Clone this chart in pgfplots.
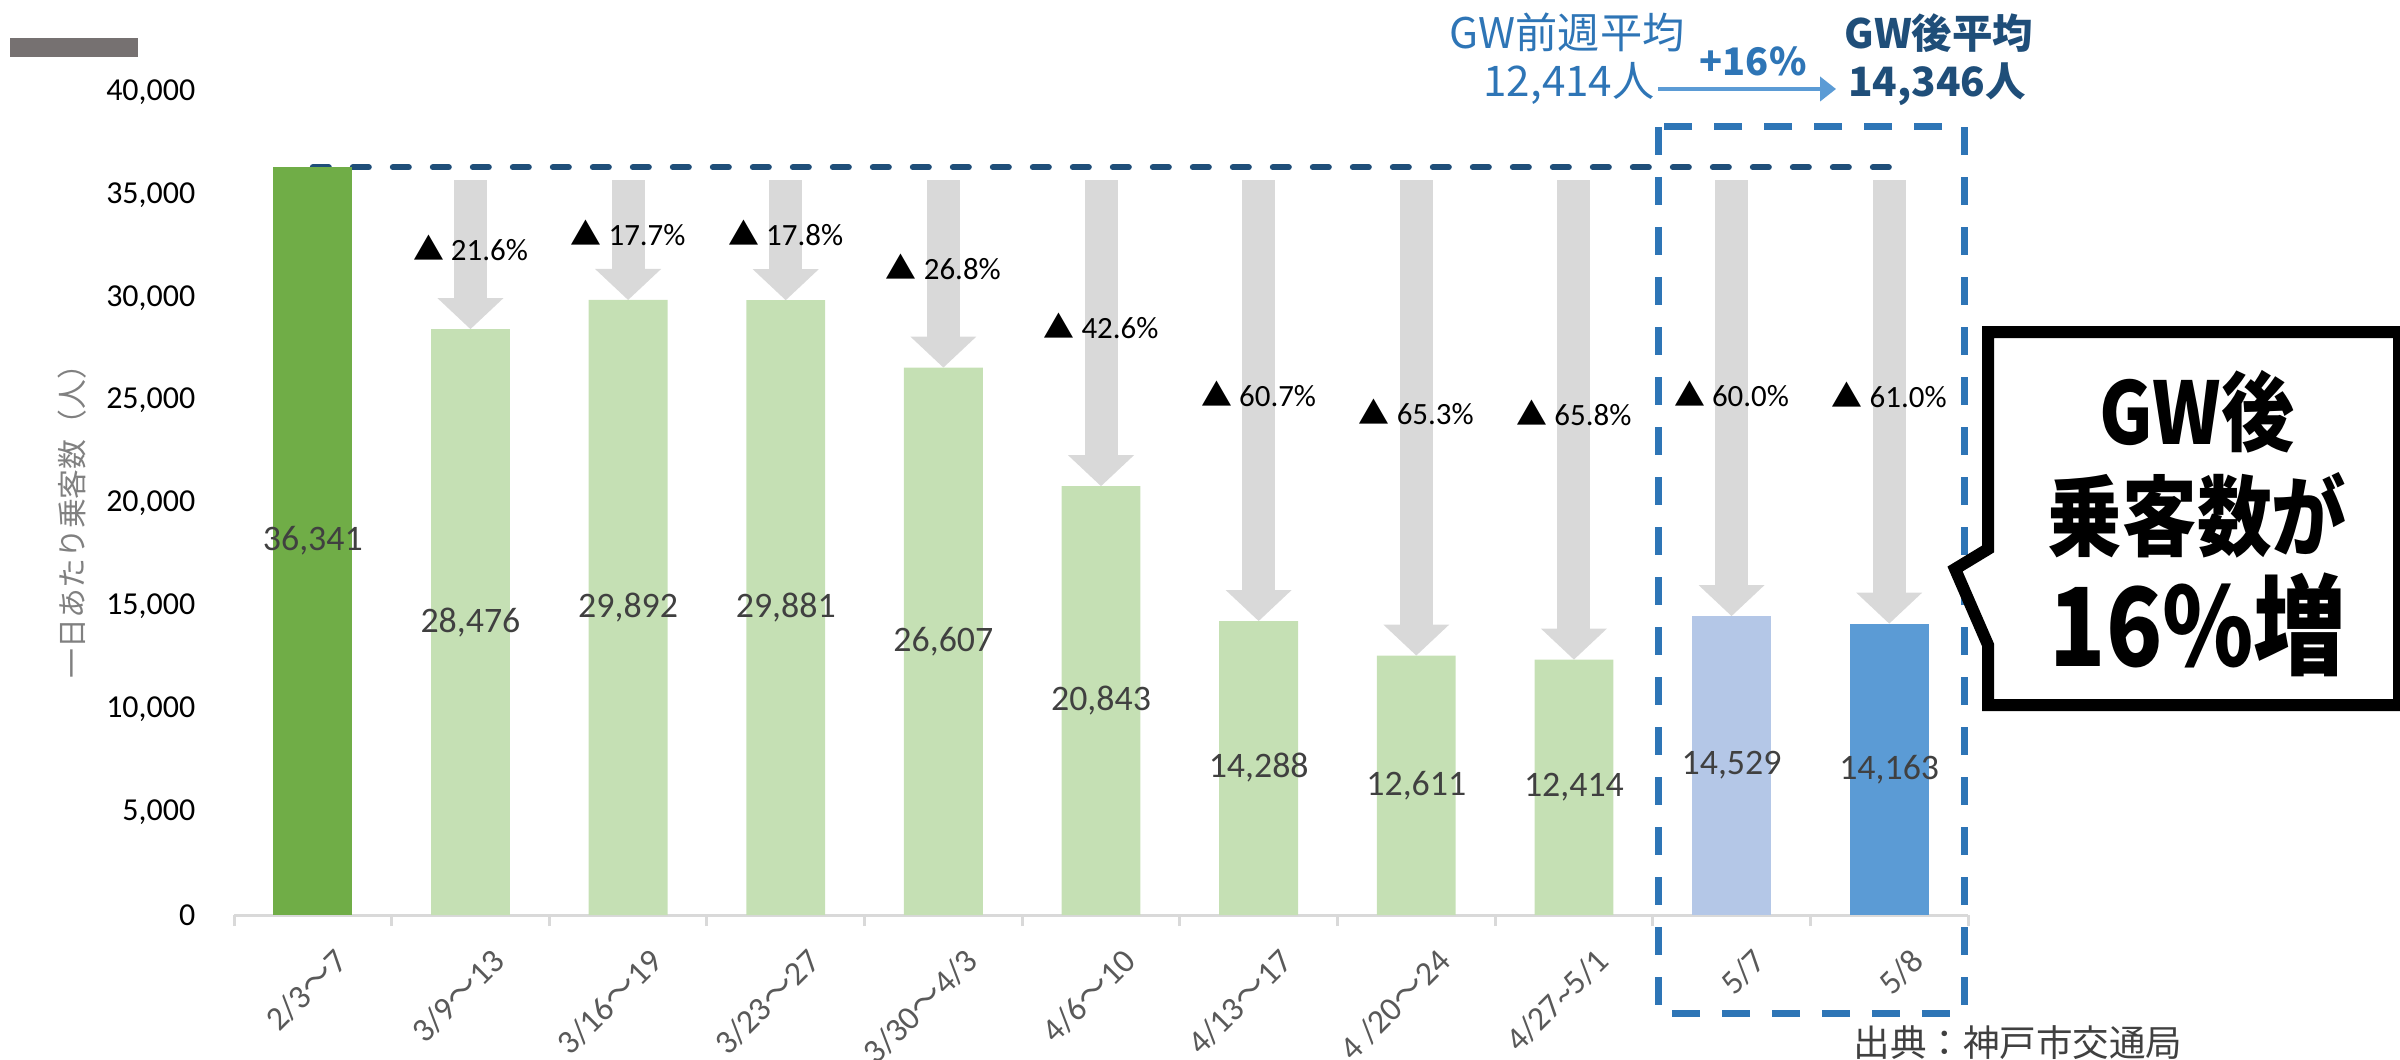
\documentclass[border=0pt]{standalone}
\usepackage{fontspec}
\setmainfont{Carlito}
\newfontfamily\cjk{Noto Sans CJK JP}
\newfontfamily\cjkn[FakeStretch=0.85]{Noto Sans CJK JP}
\usepackage{pgfplots}
\usepackage{pgfplotstable}
\pgfplotsset{compat=1.18}
\usetikzlibrary{arrows.meta}
\definecolor{gdark}{HTML}{70AD47}
\definecolor{glight}{HTML}{C5E0B4}
\definecolor{blight}{HTML}{B4C7E7}
\definecolor{bmid}{HTML}{5B9BD5}
\definecolor{arrgray}{HTML}{D9D9D9}
\definecolor{axgray}{HTML}{D9D9D9}
\definecolor{labgray}{HTML}{595959}
\definecolor{valgray}{HTML}{404040}
\definecolor{dkblue}{HTML}{1F4E79}
\definecolor{boxblue}{HTML}{2E75B6}
\definecolor{txtblue}{HTML}{2E75B6}
\definecolor{rectgray}{HTML}{767171}
\newcommand\wv{{\cjk 〜}}
\newcommand\tri{{\cjk ▲}}

\pgfplotstableread{
x val
0 36341
1 28476
2 29892
3 29881
4 26607
5 20843
6 14288
7 12611
8 12414
9 14529
10 14163
}\bars

\pgfplotstableread{
x top val
1 35700 28476
2 35700 29892
3 35700 29881
4 35700 26607
5 35700 20843
6 35700 14288
7 35700 12611
8 35700 12414
9 35700 14529
10 35700 14163
}\arrows

\pgfplotstableread{
x y pct
1 32416 21.6
2 33160 17.7
3 33160 17.8
4 31520 26.8
5 28625 42.6
6 25353 60.7
7 24460 65.3
8 24386 65.8
9 25353 60.0
10 25279 61.0
}\pcts

\begin{document}
\begin{tikzpicture}
\path[use as bounding box] (0,0) rectangle (240mm,-106mm);
\begin{axis}[
  at={(23.4mm,-91.5mm)}, anchor=south west,
  scale only axis, width=173.4mm, height=82.3mm,
  xmin=-0.5, xmax=10.5, ymin=0, ymax=40000,
  clip=false,
  axis x line*=bottom, axis y line*=left,
  x axis line style={draw=axgray, line width=0.3mm},
  y axis line style={draw=none},
  /pgf/number format/assume math mode=true,
  ytick={0,5000,...,40000},
  ytick style={draw=none},
  scaled y ticks=false,
  yticklabel style={/pgf/number format/1000 sep={,}, font=\fontsize{9.1}{10}\selectfont, inner sep=0pt, xshift=-3.8mm, text=black},
  xtick={0,...,10},
  xticklabels={2/3\wv 7, 3/9\wv 13, 3/16\wv 19, 3/23\wv 27, 3/30\wv 4/3, 4/6\wv 10, 4/13\wv 17, 4 /20\wv 24, 4/27\textasciitilde 5/1, 5/7, 5/8},
  major x tick style={draw=none},
  minor xtick={-0.5,0.5,...,10.5},
  minor x tick style={draw=axgray, line width=0.3mm},
  minor tick length=1.1mm,
  xtick align=outside,
  xticklabel style={rotate=45, anchor=north east, inner sep=0pt, font=\fontsize{9.6}{11}\selectfont, text=labgray, yshift=-2.5mm, xshift=0.3mm},
]
% gray arrows
\addplot[quiver={u=0, v=\thisrow{val}-\thisrow{top}}, draw=arrgray, line width=3.3mm,
  -{Triangle[length=3.1mm, width=6.6mm, line width=0pt]}] table[x=x, y=top] {\arrows};
% reference dashed line
\addplot[draw=dkblue, line width=0.6mm, line cap=round, dash pattern=on 1.6mm off 2.4mm] coordinates {(0,36341) (10,36341)};
% bars
\addplot[ybar, bar width=0.5, bar shift=0pt, fill=gdark, draw=none, restrict x to domain=-0.1:0.1] table[x=x, y=val] {\bars};
\addplot[ybar, bar width=0.5, bar shift=0pt, fill=glight, draw=none, restrict x to domain=0.9:8.1] table[x=x, y=val] {\bars};
\addplot[ybar, bar width=0.5, bar shift=0pt, fill=blight, draw=none, restrict x to domain=8.9:9.1] table[x=x, y=val] {\bars};
\addplot[ybar, bar width=0.5, bar shift=0pt, fill=bmid, draw=none, restrict x to domain=9.9:10.1] table[x=x, y=val] {\bars};
% value labels
\addplot[draw=none, mark=none, point meta=\thisrow{val},
  nodes near coords={\pgfmathprintnumber[fixed, precision=0, 1000 sep={,}]{\pgfplotspointmeta}},
  every node near coord/.append style={anchor=center, inner sep=0pt, text=valgray, font=\fontsize{10.2}{12}\selectfont}]
  table[x=x, y expr=\thisrow{val}/2] {\bars};
% percentage labels
\addplot[draw=none, mark=none, point meta=\thisrow{pct},
  nodes near coords={\tri\ \pgfmathprintnumber[fixed, fixed zerofill, precision=1]{\pgfplotspointmeta}\%},
  every node near coord/.append style={anchor=center, inner sep=0pt, text=black, font=\fontsize{8.8}{10}\selectfont}]
  table[x=x, y=y] {\pcts};
\end{axis}

\begin{scope}[x=0.1mm, y=-0.1mm]
\fill[rectgray] (10,38) rectangle (138,57);
\node[rotate=90, text=gray, font=\cjk\fontsize{8.5}{10}\selectfont] at (72,514) {一日あたり乗客数（人）};
\draw[boxblue, line width=0.7mm, dash pattern=on 2.8mm off 2.2mm] (1658,127) rectangle (1964,1013);
\node[text=txtblue, font=\cjk\fontsize{12}{14}\selectfont] at (1567,32) {GW前週平均};
\node[text=txtblue, font=\cjk\fontsize{12}{14}\selectfont] at (1569,83) {12,414人};
\node[text=txtblue, font=\cjk\bfseries\fontsize{10.8}{12}\selectfont] at (1753,61) {+16\%};
\draw[bmid, line width=0.4mm, -{Triangle[length=1.6mm, width=2.4mm]}] (1658,89) -- (1836,89);
\node[text=dkblue, font=\cjk\bfseries\fontsize{11.5}{14}\selectfont] at (1939,33) {GW後平均};
\node[text=dkblue, font=\cjk\bfseries\fontsize{11.5}{14}\selectfont] at (1937,84) {14,346人};
\filldraw[fill=white, draw=black, line width=1.2mm, line join=miter]
  (1988,332) -- (2399,332) -- (2399,705) -- (1988,705) -- (1988,645) -- (1955,569) -- (1988,549) -- cycle;
\node[font=\cjkn\bfseries\fontsize{24.5}{28}\selectfont] at (2197,412) {GW後};
\node[font=\cjkn\bfseries\fontsize{25}{28}\selectfont] at (2197,515) {乗客数が};
\node[font=\cjkn\bfseries\fontsize{31}{34}\selectfont] at (2198,625) {16\%増};
\node[text=valgray, font=\cjk\fontsize{10.4}{12}\selectfont] at (2018,1043) {出典：神戸市交通局};
\end{scope}
\end{tikzpicture}
\end{document}
